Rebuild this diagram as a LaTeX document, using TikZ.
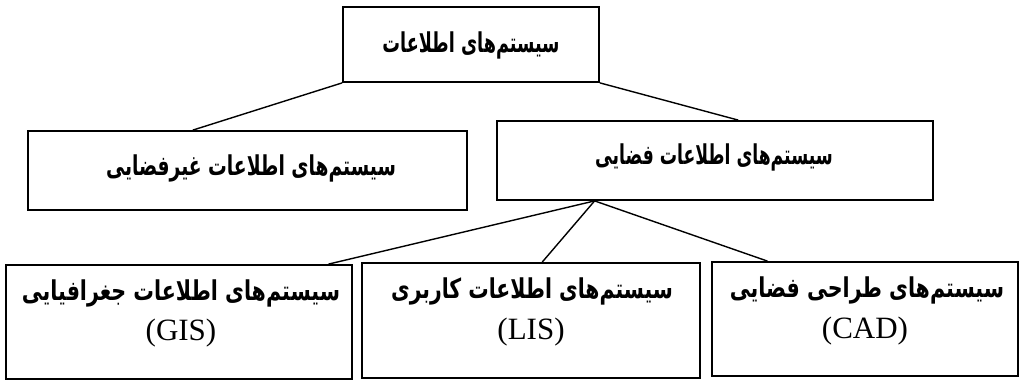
\documentclass[tikz,border=0pt]{standalone}
\usepackage{fontspec}
\usetikzlibrary{calc}
\TeXXeTstate=1
\newfontfamily\fafont[Script=Arabic]{DejaVu Sans}
\newfontfamily\lafont{Liberation Serif}
\newcommand{\fa}[2][0.82]{\scalebox{#1}[1.3]{\fafont\bfseries\fontsize{21}{25}\selectfont\beginR #2\endR}}
\newcommand{\la}[1]{{\lafont\fontsize{31}{35}\selectfont #1}}
\begin{document}
\begin{tikzpicture}[x=1pt,y=-1pt,
  box/.style={draw=black, line width=1.8pt, rectangle, inner sep=0pt},
  txt/.style={inner sep=0pt, align=center},
  link/.style={draw=black, line width=1.4pt}]
\useasboundingbox (0,0) rectangle (1025,382);
% boxes
\node[box, minimum width=256pt, minimum height=75pt] (top) at (471,44.5) {};
\node[box, minimum width=439pt, minimum height=79pt] (ns) at (247.5,170.5) {};
\node[box, minimum width=436pt, minimum height=79pt] (sp) at (715,160.5) {};
\node[box, minimum width=346pt, minimum height=114pt] (gis) at (179,322) {};
\node[box, minimum width=338pt, minimum height=115pt] (lis) at (531,320.5) {};
\node[box, minimum width=306pt, minimum height=114pt] (cad) at (865,319) {};
% texts
\node[txt] (ttop) at (471,45) {\fa[0.84]{سیستم‌های اطلاعات}};
\node[txt] (tns) at (251,168) {\fa[0.89]{سیستم‌های اطلاعات غیرفضایی}};
\node[txt] (tsp) at (714,157) {\fa[0.82]{سیستم‌های اطلاعات فضایی}};
\node[txt] (tgis) at (181,293) {\fa[0.98]{سیستم‌های اطلاعات جغرافیایی}};
\node[txt] (lgis) at (181,333) {\la{(GIS)}};
\node[txt] (tlis) at (532,291) {\fa[0.97]{سیستم‌های اطلاعات کاربری}};
\node[txt] (llis) at (531,332) {\la{(LIS)}};
\node[txt] (tcad) at (867,290) {\fa[0.98]{سیستم‌های طراحی فضایی}};
\node[txt] (lcad) at (865,331) {\la{(CAD)}};
% connectors
\coordinate (apex) at ($(sp.south west)!0.225!(sp.south east)$);
\draw[link] (top.south west) -- ($(ns.north west)!0.376!(ns.north east)$);
\draw[link] (top.south east) -- ($(sp.north west)!0.553!(sp.north east)$);
\draw[link] (apex) -- ($(gis.north west)!0.93!(gis.north east)$);
\draw[link] (apex) -- ($(lis.north west)!0.533!(lis.north east)$);
\draw[link] (apex) -- ($(cad.north west)!0.183!(cad.north east)$);
\end{tikzpicture}
\end{document}
